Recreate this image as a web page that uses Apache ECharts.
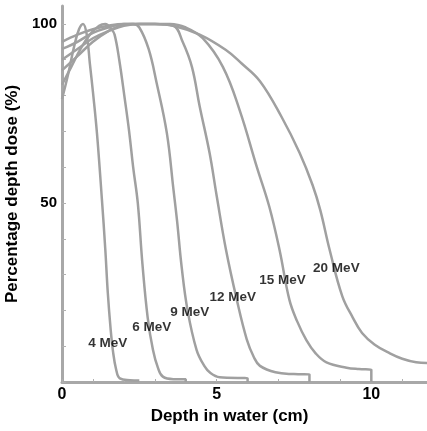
<!DOCTYPE html>
<html>
<head>
<meta charset="utf-8">
<script src="https://cdn.jsdelivr.net/npm/echarts@6/dist/echarts.min.js"></script>
<style>
  html, body { margin: 0; padding: 0; background: #fff; }
  #chart { width: 427px; height: 431px; }
</style>
</head>
<body>
<div id="chart"></div>
<script>
  // depth (cm), percentage depth dose (%)
  var energies = ["4 MeV", "6 MeV", "9 MeV", "12 MeV", "15 MeV", "20 MeV"];
  var pdd4 = [[0, 79], [0.2, 86], [0.4, 94], [0.55, 98.5], [0.68, 100], [0.8, 97], [0.9, 89], [1.0, 81],
    [1.13, 69.5], [1.29, 51], [1.4, 37], [1.48, 25], [1.57, 15], [1.65, 8.5], [1.75, 3.5], [1.87, 1], [2.2, 0.5], [2.5, 0.4]];
  var pdd6 = [[0, 83], [0.3, 88], [0.6, 93], [0.9, 97], [1.2, 99.5], [1.4, 100], [1.6, 98.5], [1.7, 97],
    [1.85, 90], [2.03, 79], [2.17, 70], [2.3, 60], [2.45, 50], [2.6, 33], [2.77, 18], [2.94, 9], [3.1, 4],
    [3.26, 1.5], [3.6, 0.8], [4.0, 0.8], [4.0, 0]];
  var pdd9 = [[0, 87], [0.5, 91], [1.0, 95], [1.5, 98], [2.0, 99.8], [2.3, 100], [2.5, 99], [2.8, 93],
    [3.06, 83.5], [3.39, 69.5], [3.6, 54], [3.72, 45], [3.87, 32], [4.06, 20], [4.35, 9], [4.6, 4.5],
    [4.8, 2.5], [5.1, 1.3], [6.0, 1], [6.0, 0]];
  var pdd12 = [[0, 90], [0.5, 93], [1.0, 96], [1.5, 98], [2.0, 99.5], [2.5, 100], [3.0, 100], [3.6, 99.5],
    [3.9, 95], [4.2, 88], [4.45, 77], [4.77, 64], [5.0, 52], [5.3, 37], [5.65, 23], [5.97, 12], [6.2, 7],
    [6.4, 4.5], [6.9, 2.7], [7.5, 2.2], [8.0, 2.1], [8.0, 0]];
  var pdd15 = [[0, 93], [0.5, 95], [1.0, 97.5], [1.5, 99], [2.0, 100], [3.0, 100], [3.5, 100], [4.0, 99],
    [4.55, 96], [5.2, 88], [5.74, 76], [6.3, 60], [6.7, 49], [7.03, 37], [7.35, 23], [7.6, 17], [7.9, 11.7],
    [8.2, 8], [8.55, 5.5], [9.2, 4], [9.6, 3.6], [10.0, 3.4], [10.0, 0]];
  var pdd20 = [[0, 95], [0.5, 97], [1.0, 98.5], [1.5, 99.5], [2.0, 100], [3.0, 100], [3.6, 99.5], [4.45, 97],
    [5.3, 92.7], [5.8, 89], [6.4, 84], [7.1, 74], [7.68, 64], [8.1, 55], [8.35, 48], [8.65, 37], [9.06, 24],
    [9.4, 18], [9.7, 13.7], [10.1, 10.5], [10.6, 8], [11.0, 6.5], [11.45, 5.5], [11.8, 5.3]];
  var curves = [pdd4, pdd6, pdd9, pdd12, pdd15, pdd20];
  // where each energy label sits
  var labelX = [1.48, 2.9, 4.13, 5.52, 7.13, 8.87];
  var labelY = [10.9, 15.4, 19.6, 23.7, 28.5, 31.8];
  var xTickLabels = [0, 5, 10];
  var yTickLabels = [50, 100];

  var chart = echarts.init(document.getElementById("chart"), null, { renderer: "canvas" });

  var series = curves.map(function (d, i) {
    return {
      type: "line",
      name: energies[i],
      data: d,
      showSymbol: false,
      smooth: 0.4,
      lineStyle: { color: "#a0a0a0", width: 2.5 },
      silent: true,
      z: 2
    };
  });
  series.push({
    type: "scatter",
    symbolSize: 0,
    data: energies.map(function (e, i) { return [labelX[i], labelY[i], e]; }),
    label: {
      show: true,
      position: "inside",
      formatter: function (p) { return p.value[2]; },
      color: "#000",
      fontFamily: "Liberation Sans",
      fontWeight: "bold",
      fontSize: 13.5
    },
    z: 5
  });

  var option = {
    animation: false,
    backgroundColor: "#fff",
    grid: { left: 62, right: 0, top: 6, bottom: 49, outerBoundsMode: "none" },
    xAxis: {
      type: "value",
      min: 0,
      max: 11.8,
      interval: 1,
      name: "Depth in water (cm)",
      nameLocation: "middle",
      nameGap: 20,
      nameTextStyle: {
        color: "#000", fontFamily: "Liberation Sans", fontWeight: "bold", fontSize: 17,
        padding: [0, 30, 0, 0]
      },
      axisLine: { show: true, lineStyle: { color: "#a8a8a8", width: 3 } },
      axisTick: { show: true, inside: true, length: 3, lineStyle: { color: "#b0b0b0", width: 1 } },
      splitLine: { show: false },
      axisLabel: {
        margin: 5,
        color: "#000",
        fontFamily: "Liberation Sans",
        fontWeight: "bold",
        fontSize: 16,
        showMaxLabel: false,
        formatter: function (v) { return xTickLabels.indexOf(v) >= 0 ? String(v) : ""; }
      }
    },
    yAxis: {
      type: "value",
      min: 0,
      max: 105,
      interval: 10,
      name: "Percentage depth dose (%)",
      nameLocation: "middle",
      nameGap: 33,
      nameTextStyle: { color: "#000", fontFamily: "Liberation Sans", fontWeight: "bold", fontSize: 17 },
      axisLine: { show: true, lineStyle: { color: "#a8a8a8", width: 3 } },
      axisTick: { show: true, inside: true, length: 4, lineStyle: { color: "#b0b0b0", width: 1 } },
      splitLine: { show: false },
      axisLabel: {
        margin: 5,
        color: "#000",
        fontFamily: "Liberation Sans",
        fontWeight: "bold",
        fontSize: 15,
        showMaxLabel: false,
        formatter: function (v) { return yTickLabels.indexOf(v) >= 0 ? String(v) : ""; }
      }
    },
    series: series
  };
  chart.setOption(option);
</script>
</body>
</html>
